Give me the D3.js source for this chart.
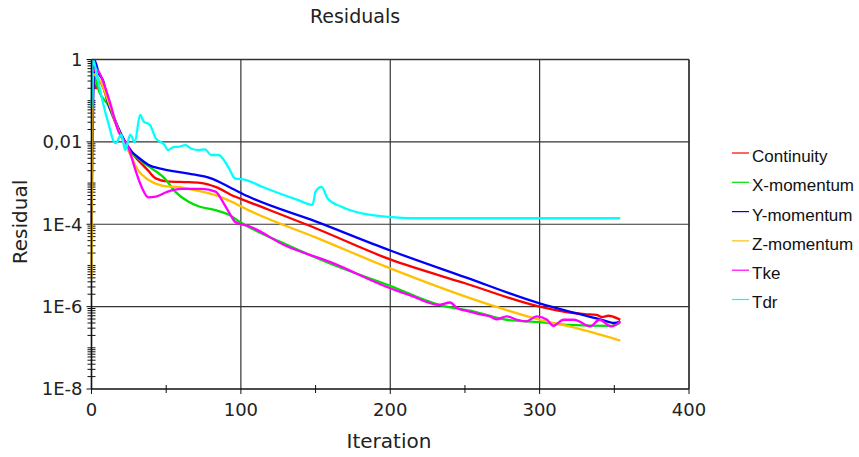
<!DOCTYPE html>
<html>
<head>
<meta charset="utf-8">
<script src="https://cdn.jsdelivr.net/npm/d3@7"></script>
<style>
    body { margin: 0; background: #fff; }
    svg { display: block; }
</style>
</head>
<body>
<svg id="chart" width="859" height="457"></svg>
<script>
// residual histories, [iteration, residual]
const continuity = [
    [1, 0.5], [2, 0.25], [3, 0.2], [5, 0.3], [8, 0.2], [11, 0.09], [20, 0.014], [27, 0.0055],
    [38, 0.002], [43, 0.0013], [51, 0.0011], [65, 0.00105], [74, 0.001], [83, 8.1e-4],
    [96, 4.7e-4], [105, 3.5e-4], [150, 8.0e-5], [200, 1.4e-5], [250, 3.7e-6], [300, 1.0e-6],
    [320, 7.2e-7], [330, 6.6e-7], [338, 6.3e-7], [342, 5.6e-7], [346, 6.0e-7], [352, 5.2e-7], [354, 4.8e-7]
];
const xMomentum = [
    [1, 0.6], [3, 0.3], [5, 0.17], [11, 0.08], [20, 0.014], [27, 0.0055], [33, 0.0035],
    [40, 0.0023], [49, 0.0013], [56, 6.2e-4], [65, 3.5e-4], [72, 2.7e-4], [83, 2.2e-4],
    [92, 1.7e-4], [100, 1.1e-4], [133, 2.9e-5], [160, 1.1e-5], [200, 3.2e-6], [233, 1.1e-6],
    [256, 7.6e-7], [278, 4.8e-7], [300, 4.2e-7], [320, 3.6e-7], [347, 3.4e-7], [354, 4.0e-7]
];
const yMomentum = [
    [0, 1e-4], [2, 0.95], [5, 0.45], [8, 0.29], [11, 0.09], [15, 0.04], [20, 0.015],
    [27, 0.0058], [32, 0.004], [38, 0.0028], [47, 0.0022], [65, 0.0017], [80, 0.0013],
    [94, 7.4e-4], [105, 4.7e-4], [150, 1.17e-4], [200, 2.3e-5], [250, 5.2e-6], [300, 1.2e-6],
    [320, 7.6e-7], [340, 5.0e-7], [350, 4.0e-7], [354, 4.4e-7]
];
const zMomentum = [
    [0, 5e-6], [1, 0.45], [3, 0.4], [6, 0.3], [12, 0.08], [20, 0.013], [25, 0.0058],
    [31, 0.0021], [38, 0.0012], [47, 8.7e-4], [60, 7.8e-4], [74, 6.2e-4], [83, 5.1e-4],
    [94, 3.5e-4], [105, 2.2e-4], [150, 4.8e-5], [200, 8.5e-6], [267, 1.1e-6], [300, 4.8e-7],
    [320, 3.3e-7], [354, 1.5e-7]
];
const tke = [
    [1, 0.5], [3, 0.6], [6, 0.42], [12, 0.1], [18, 0.018], [25, 0.0069], [29, 0.0023],
    [34, 7.4e-4], [38, 4.5e-4], [43, 4.7e-4], [51, 6.2e-4], [60, 7.2e-4], [74, 7.2e-4],
    [83, 6.2e-4], [89, 3.0e-4], [93, 1.7e-4], [96, 1.15e-4], [100, 1.0e-4], [103, 9.5e-5],
    [130, 3.0e-5], [160, 1.2e-5], [200, 2.8e-6], [213, 1.9e-6], [233, 1.1e-6], [240, 1.26e-6],
    [245, 9.1e-7], [253, 7.6e-7], [262, 6.3e-7], [267, 5.8e-7], [271, 4.9e-7], [278, 5.8e-7],
    [285, 4.8e-7], [291, 4.4e-7], [298, 5.8e-7], [305, 4.8e-7], [309, 3.4e-7], [316, 4.8e-7],
    [323, 4.8e-7], [334, 3.3e-7], [340, 4.8e-7], [348, 3.3e-7], [354, 4.4e-7]
];
const tdr = [
    [0, 0.07], [1, 1.0], [2, 0.8], [5, 0.24], [8, 0.08], [11, 0.031], [16, 0.0093], [20, 0.015],
    [22.5, 0.0063], [26, 0.015], [29, 0.0098], [32.5, 0.045], [35, 0.031], [39, 0.026],
    [43, 0.0123], [49, 0.0083], [51, 0.0063], [55, 0.0075], [58, 0.0076], [63, 0.0083],
    [67, 0.0068], [72, 0.0063], [76, 0.0066], [80, 0.0048], [85, 0.0048], [92, 0.0023],
    [96, 0.0013], [103, 0.0012], [115, 7.9e-4], [138, 3.9e-4], [148, 2.95e-4], [150, 6.2e-4],
    [154, 8.1e-4], [158, 4.3e-4], [167, 2.7e-4], [182, 1.8e-4], [200, 1.5e-4], [213, 1.4e-4],
    [354, 1.4e-4]
];

const seriesNames = ["Continuity", "X-momentum", "Y-momentum", "Z-momentum", "Tke", "Tdr"];
const seriesData = [continuity, xMomentum, yMomentum, zMomentum, tke, tdr];
const seriesColors = ["#ff0000", "#00e000", "#0000ff", "#ffc000", "#ff00ff", "#00ffff"];

const xTicks = [0, 100, 200, 300, 400];
const xMinorTicks = [50, 150, 250, 350];
const yTicks = [1, 1e-2, 1e-4, 1e-6, 1e-8];
const yTickLabels = ["1", "0,01", "1E-4", "1E-6", "1E-8"];

const svg = d3.select("#chart");
const plot = { left: 91.5, right: 689, top: 59.5, bottom: 389 };

const x = d3.scaleLinear().domain([0, 400]).range([plot.left, plot.right]);
const y = d3.scaleLog().domain([1e-8, 1]).range([plot.bottom, plot.top]);

svg.append("rect").attr("width", 859).attr("height", 457).attr("fill", "#fff");

// grid
const grid = svg.append("g").attr("stroke", "#333").attr("stroke-width", 1.2);
grid.selectAll(".vg")
    .data(xTicks.slice(1))
    .enter()
    .append("line")
    .attr("x1", d => x(d)).attr("x2", d => x(d))
    .attr("y1", plot.top).attr("y2", plot.bottom);
grid.selectAll(".hg")
    .data(yTicks.slice(0, -1))
    .enter()
    .append("line")
    .attr("x1", plot.left).attr("x2", plot.right)
    .attr("y1", d => y(d)).attr("y2", d => y(d));

// minor ticks crossing axes
const yMinor = y.ticks().filter(t => !yTicks.some(v => Math.abs(Math.log10(t) - Math.log10(v)) < 1e-9));
const ticks = svg.append("g").attr("stroke", "#111").attr("stroke-width", 1);
ticks.selectAll(".ym")
    .data(yMinor)
    .enter()
    .append("line")
    .attr("x1", plot.left - 4).attr("x2", plot.left + 4)
    .attr("y1", d => y(d)).attr("y2", d => y(d));
ticks.selectAll(".yM")
    .data(yTicks)
    .enter()
    .append("line")
    .attr("x1", plot.left - 5).attr("x2", plot.left)
    .attr("y1", d => y(d)).attr("y2", d => y(d));
ticks.selectAll(".xm")
    .data(xMinorTicks)
    .enter()
    .append("line")
    .attr("x1", d => x(d)).attr("x2", d => x(d))
    .attr("y1", plot.bottom - 4).attr("y2", plot.bottom + 4);
ticks.selectAll(".xM")
    .data(xTicks)
    .enter()
    .append("line")
    .attr("x1", d => x(d)).attr("x2", d => x(d))
    .attr("y1", plot.bottom).attr("y2", plot.bottom + 5);

// series
const line = d3.line()
    .curve(d3.curveMonotoneX)
    .x(d => x(d[0]))
    .y(d => y(d[1]));

seriesData.forEach((data, i) => {
    svg.append("path")
        .datum(data)
        .attr("fill", "none")
        .attr("stroke", seriesColors[i])
        .attr("stroke-width", 2.3)
        .attr("stroke-linejoin", "round")
        .attr("d", line);
});

// axes lines on top
svg.append("line")
    .attr("x1", plot.left).attr("x2", plot.left)
    .attr("y1", plot.top).attr("y2", plot.bottom)
    .attr("stroke", "#111").attr("stroke-width", 1.6);
svg.append("line")
    .attr("x1", plot.left).attr("x2", plot.right)
    .attr("y1", plot.bottom).attr("y2", plot.bottom)
    .attr("stroke", "#111").attr("stroke-width", 1.6);
svg.append("line")
    .attr("x1", plot.left).attr("x2", plot.right)
    .attr("y1", plot.top).attr("y2", plot.top)
    .attr("stroke", "#333").attr("stroke-width", 1.4);
svg.append("line")
    .attr("x1", plot.right).attr("x2", plot.right)
    .attr("y1", plot.top).attr("y2", plot.bottom)
    .attr("stroke", "#333").attr("stroke-width", 1.4);

// tick labels
const labelFont = "'DejaVu Sans', Verdana, sans-serif";
svg.append("g")
    .selectAll("text")
    .data(yTicks)
    .enter()
    .append("text")
    .attr("x", plot.left - 9)
    .attr("y", d => y(d))
    .attr("dy", "0.36em")
    .attr("text-anchor", "end")
    .attr("font-family", labelFont)
    .attr("font-size", 18)
    .attr("fill", "#222")
    .text((d, i) => yTickLabels[i]);

svg.append("g")
    .selectAll("text")
    .data(xTicks)
    .enter()
    .append("text")
    .attr("x", d => x(d))
    .attr("y", 416)
    .attr("text-anchor", "middle")
    .attr("font-family", labelFont)
    .attr("font-size", 18)
    .attr("fill", "#222")
    .text(d => d);

// titles
svg.append("text")
    .attr("x", 355).attr("y", 23)
    .attr("text-anchor", "middle")
    .attr("font-family", labelFont)
    .attr("font-size", 19)
    .attr("fill", "#222")
    .text("Residuals");

svg.append("text")
    .attr("x", 389).attr("y", 448)
    .attr("text-anchor", "middle")
    .attr("font-family", labelFont)
    .attr("font-size", 20)
    .attr("fill", "#222")
    .text("Iteration");

svg.append("text")
    .attr("transform", "translate(27,222) rotate(-90)")
    .attr("text-anchor", "middle")
    .attr("font-family", labelFont)
    .attr("font-size", 20)
    .attr("fill", "#222")
    .text("Residual");

// legend
const legend = svg.append("g").attr("transform", "translate(732,156)");
legend.selectAll(".legend-item")
    .data(seriesNames)
    .enter()
    .append("g")
    .attr("class", "legend-item")
    .attr("transform", (d, i) => `translate(0,${i * 29.3})`)
    .each(function(d, i) {
        const g = d3.select(this);
        g.append("line")
            .attr("x1", 0).attr("x2", 17)
            .attr("y1", -3).attr("y2", -3)
            .attr("stroke", seriesColors[i])
            .attr("stroke-width", 1.2);
        g.append("text")
            .attr("x", 20)
            .attr("y", 0)
            .attr("dy", "0.35em")
            .attr("font-family", "'Liberation Sans', Arial, sans-serif")
            .attr("font-size", 17)
            .attr("fill", "#111")
            .text(d);
    });
</script>
</body>
</html>
